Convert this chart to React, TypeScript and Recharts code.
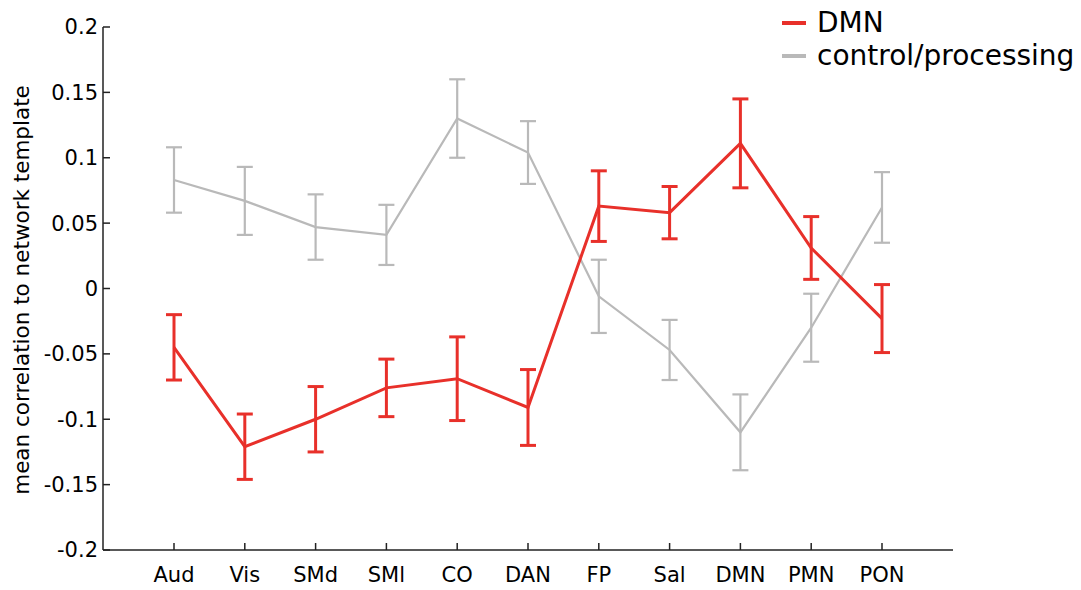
import React from 'react';
import { LineChart, Line, XAxis, YAxis, ErrorBar, Legend, Label } from 'recharts';

// networks on the x axis
const networks = ['Aud', 'Vis', 'SMd', 'SMl', 'CO', 'DAN', 'FP', 'Sal', 'DMN', 'PMN', 'PON'];

// DMN template (red)
const dmnMean = [-0.045, -0.121, -0.1, -0.076, -0.069, -0.091, 0.063, 0.058, 0.111, 0.031, -0.023];
const dmnErr = [0.025, 0.025, 0.025, 0.022, 0.032, 0.029, 0.027, 0.02, 0.034, 0.024, 0.026];

// control/processing template (gray)
const ctrlMean = [0.083, 0.067, 0.047, 0.041, 0.13, 0.104, -0.006, -0.047, -0.11, -0.03, 0.062];
const ctrlErr = [0.025, 0.026, 0.025, 0.023, 0.03, 0.024, 0.028, 0.023, 0.029, 0.026, 0.027];

const yTicks = [-0.2, -0.15, -0.1, -0.05, 0, 0.05, 0.1, 0.15, 0.2];

const RED = '#e8302a';
const GRAY = '#b9b9b9';
const FONT = '"DejaVu Sans", sans-serif';
const TICK_SIZE = 21;

const data = networks.map((name, i) => ({
  name,
  dmn: dmnMean[i],
  dmnErr: dmnErr[i],
  ctrl: ctrlMean[i],
  ctrlErr: ctrlErr[i],
}));

const legendItems = [
  { label: 'DMN', color: RED },
  { label: 'control/processing', color: GRAY },
];

const renderLegend = () => (
  <div style={{ fontFamily: FONT, fontSize: 28, lineHeight: '33px', color: '#000' }}>
    {legendItems.map((item) => (
      <div key={item.label} style={{ display: 'flex', alignItems: 'center' }}>
        <span style={{ display: 'inline-block', width: 24, height: 4, background: item.color, marginRight: 11 }} />
        <span>{item.label}</span>
      </div>
    ))}
  </div>
);

const renderYLabel = () => (
  <text
    x={21}
    y={290}
    transform="rotate(-90, 21, 290)"
    textAnchor="middle"
    dominantBaseline="central"
    fontFamily={FONT}
    fontSize={21.5}
    fill="#000"
  >
    mean correlation to network template
  </text>
);

const tickStyle = { fill: '#000', fontSize: TICK_SIZE, fontFamily: FONT, style: { fontSize: TICK_SIZE, fontFamily: FONT } };

export default function App() {
  return (
    <div style={{ position: 'absolute', left: 0, top: 0, width: 1081, height: 590, background: '#fff' }}>
      <LineChart width={1081} height={590} data={data} margin={{ top: 27, right: 128, bottom: 10, left: 0 }}>
        <XAxis
          dataKey="name"
          height={30}
          padding={{ left: 71, right: 71 }}
          tickSize={-7}
          tickMargin={24}
          stroke="#222"
          strokeWidth={1.5}
          fontSize={TICK_SIZE}
          tick={tickStyle}
          interval={0}
        />
        <YAxis
          width={103}
          domain={[-0.2, 0.2]}
          ticks={yTicks}
          tickFormatter={(v: number) => String(v)}
          tickSize={-7}
          tickMargin={12}
          stroke="#222"
          strokeWidth={1.5}
          fontSize={TICK_SIZE}
          tick={tickStyle}
          allowDataOverflow
        >
          <Label content={renderYLabel} />
        </YAxis>
        <Legend
          content={renderLegend}
          layout="horizontal"
          verticalAlign="middle"
          align="center"
          wrapperStyle={{ top: 6, left: 782, width: 300 }}
        />
        <Line dataKey="ctrl" stroke={GRAY} strokeWidth={2.2} dot={false} isAnimationActive={false}>
          <ErrorBar dataKey="ctrlErr" direction="y" width={8} stroke={GRAY} strokeWidth={2.2} />
        </Line>
        <Line dataKey="dmn" stroke={RED} strokeWidth={3} dot={false} isAnimationActive={false}>
          <ErrorBar dataKey="dmnErr" direction="y" width={8} stroke={RED} strokeWidth={3} />
        </Line>
      </LineChart>
    </div>
  );
}
